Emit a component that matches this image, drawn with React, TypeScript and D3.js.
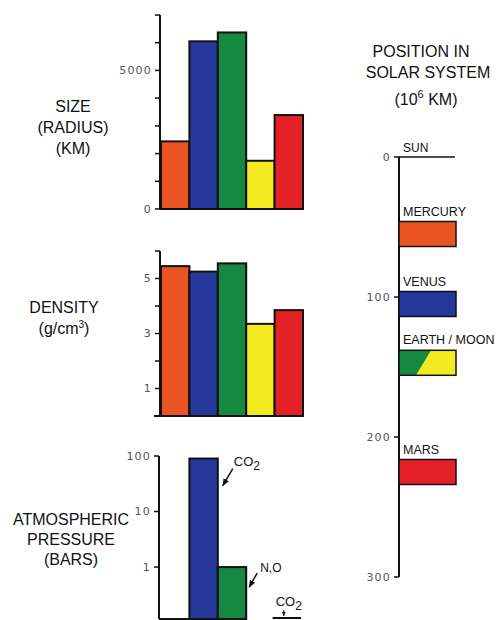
import React from "react";
import * as d3 from "d3";

const planets = ["Mercury", "Venus", "Earth", "Moon", "Mars"];
const colors = ["#EA5322", "#26399A", "#14893F", "#F4EA21", "#E42127"];
const radiusKm = [2440, 6050, 6370, 1740, 3390];
const density = [5.45, 5.25, 5.55, 3.35, 3.85];
const pressure = [0, 90, 1, 0, 0.006];
const sizeTicks = [0, 1000, 2000, 3000, 4000, 5000, 6000, 7000];
const sizeLabels = [0, 5000];
const densTicks = [1, 2, 3, 4, 5, 6];
const densLabels = [1, 3, 5];
const presTicks = [1, 10, 100];
const orbitNames = ["MERCURY", "VENUS", "EARTH / MOON", "MARS"];
const orbitDist = [55, 105, 147, 225];
const orbitColors = [["#EA5322"], ["#26399A"], ["#14893F", "#F4EA21"], ["#E42127"]];
const distTicks = [0, 100, 200, 300];

const FONT = "'Liberation Sans', Arial, sans-serif";
const TICK_FONT = "'DejaVu Sans', sans-serif";

export default function App() {
  const x = d3.scaleBand().domain(planets).range([161, 303]).padding(0);
  const bw = x.bandwidth();
  const axisX = 160;
  const ySize = d3.scaleLinear().domain([0, 7000]).range([209, 15]);
  const yDens = d3.scaleLinear().domain([0, 6]).range([416, 251]);
  const yPres = d3.scaleLog().domain([0.116, 100]).range([619, 456]);
  const yDist = d3.scaleLinear().domain([0, 300]).range([157, 577]);
  const distX = 399;
  const distW = 57;
  const distBarH = 25;

  const tickLabel = (txt: string | number, xx: number, yy: number, key: string) => (
    <text key={key} x={xx} y={yy} dy="0.35em" textAnchor="end" fontFamily={TICK_FONT} fontSize={11} letterSpacing={1.2} fill="#555">{txt}</text>
  );

  const leftLabel = (lines: React.ReactNode[], cx: number, y0: number, dy: number) =>
    lines.map((l, i) => (
      <text key={i} x={cx} y={y0 + i * dy} textAnchor="middle" fontFamily={FONT} fontSize={16} fill="#111">{l}</text>
    ));

  const venusIdx = 1, earthIdx = 2, marsIdx = 4;
  const venusRight = (x(planets[venusIdx]) as number) + bw;
  const venusTop = yPres(pressure[venusIdx]);
  const earthRight = (x(planets[earthIdx]) as number) + bw;
  const earthTop = yPres(pressure[earthIdx]);
  const marsX = x(planets[marsIdx]) as number;
  const presBase = yPres.range()[0];

  return (
    <svg width={500} height={620} style={{ position: "absolute", left: 0, top: 0, background: "#fff" }}>
      <defs>
        <marker id="ah" viewBox="0 0 10 10" refX="9" refY="5" markerWidth="5" markerHeight="5" orient="auto">
          <path d="M0,1 L10,5 L0,9 z" fill="#111" />
        </marker>
      </defs>

      {/* Left labels */}
      {leftLabel(["SIZE", "(RADIUS)", "(KM)"], 73, 112, 21)}
      {leftLabel([
        "DENSITY",
        <tspan key="g">(g/cm<tspan fontSize={10} dy="-6">3</tspan><tspan dy="6">)</tspan></tspan>,
      ], 64, 313, 21)}
      {leftLabel(["ATMOSPHERIC", "PRESSURE", "(BARS)"], 71, 525, 20)}

      {/* Size chart */}
      {planets.map((p, i) => (
        <rect key={p} x={x(p)} y={ySize(radiusKm[i])} width={bw} height={ySize(0) - ySize(radiusKm[i])} fill={colors[i]} stroke="#111" strokeWidth={2} />
      ))}
      <line x1={axisX} x2={axisX} y1={ySize(7000)} y2={ySize(0)} stroke="#111" strokeWidth={2} />
      <line x1={axisX} x2={303} y1={ySize(0)} y2={ySize(0)} stroke="#111" strokeWidth={2} />
      {sizeTicks.map((t) => (
        <line key={t} x1={axisX - 5} x2={axisX} y1={ySize(t)} y2={ySize(t)} stroke="#111" strokeWidth={1.5} />
      ))}
      {sizeLabels.map((t) => tickLabel(t, axisX - 8, ySize(t), "s" + t))}

      {/* Density chart */}
      {planets.map((p, i) => (
        <rect key={p} x={x(p)} y={yDens(density[i])} width={bw} height={yDens(0) - yDens(density[i])} fill={colors[i]} stroke="#111" strokeWidth={2} />
      ))}
      <line x1={axisX} x2={axisX} y1={yDens(6)} y2={yDens(0)} stroke="#111" strokeWidth={2} />
      <line x1={axisX - 6} x2={302} y1={yDens(0)} y2={yDens(0)} stroke="#111" strokeWidth={2} />
      {densTicks.map((t) => (
        <line key={t} x1={axisX - 5} x2={axisX} y1={yDens(t)} y2={yDens(t)} stroke="#111" strokeWidth={1.5} />
      ))}
      {densLabels.map((t) => tickLabel(t, axisX - 8, yDens(t), "d" + t))}

      {/* Pressure chart */}
      {planets.map((p, i) =>
        pressure[i] >= yPres.domain()[0] ? (
          <rect key={p} x={x(p)} y={yPres(pressure[i])} width={bw} height={presBase - yPres(pressure[i])} fill={colors[i]} stroke="#111" strokeWidth={2} />
        ) : null
      )}
      <line x1={axisX - 1} x2={axisX - 1} y1={yPres(100)} y2={presBase} stroke="#111" strokeWidth={2} />
      <line x1={axisX - 1} x2={earthRight} y1={presBase} y2={presBase} stroke="#111" strokeWidth={2} />
      {presTicks.map((t) => (
        <line key={t} x1={axisX - 6} x2={axisX - 1} y1={yPres(t)} y2={yPres(t)} stroke="#111" strokeWidth={1.5} />
      ))}
      {presTicks.map((t) => tickLabel(t, axisX - 9, yPres(t), "p" + t))}
      <line x1={marsX - 2} x2={marsX + bw - 2} y1={presBase - 1} y2={presBase - 1} stroke="#111" strokeWidth={2} />
      {/* annotations */}
      <text x={venusRight + 16} y={venusTop + 7} fontFamily={FONT} fontSize={13} fill="#111">CO<tspan fontSize={12} dy="4">2</tspan></text>
      <line x1={venusRight + 15} x2={venusRight + 5} y1={venusTop + 10} y2={venusTop + 27} stroke="#111" strokeWidth={1.5} markerEnd="url(#ah)" />
      <text x={earthRight + 14} y={earthTop + 5} fontFamily={FONT} fontSize={12} fill="#111">N,O</text>
      <line x1={earthRight + 11} x2={earthRight + 3} y1={earthTop + 6} y2={earthTop + 20} stroke="#111" strokeWidth={1.5} markerEnd="url(#ah)" />
      <text x={marsX + bw / 2} y={presBase - 13} textAnchor="middle" fontFamily={FONT} fontSize={13} fill="#111">CO<tspan fontSize={12} dy="4">2</tspan></text>
      <line x1={marsX + bw / 2 - 5} x2={marsX + bw / 2 - 5} y1={presBase - 9} y2={presBase - 3} stroke="#111" strokeWidth={1} markerEnd="url(#ah)" />

      {/* Right title */}
      <text x={421} y={57} textAnchor="middle" fontFamily={FONT} fontSize={16} fill="#111">POSITION IN</text>
      <text x={428} y={78} textAnchor="middle" fontFamily={FONT} fontSize={16} fill="#111">SOLAR SYSTEM</text>
      <text x={426} y={105} textAnchor="middle" fontFamily={FONT} fontSize={16} fill="#111">(10<tspan fontSize={11} dy="-7">6</tspan><tspan dy="7"> KM)</tspan></text>

      {/* Distance chart */}
      <line x1={distX} x2={distX} y1={yDist(0)} y2={yDist(300)} stroke="#111" strokeWidth={2} />
      <line x1={distX} x2={distX + distW - 1} y1={yDist(0)} y2={yDist(0)} stroke="#111" strokeWidth={1.5} />
      <text x={distX + 4} y={yDist(0) - 5} fontFamily={FONT} fontSize={12} fill="#111">SUN</text>
      {distTicks.map((t) => (
        <line key={t} x1={distX - 5} x2={distX} y1={yDist(t)} y2={yDist(t)} stroke="#111" strokeWidth={1.5} />
      ))}
      {distTicks.map((t) => tickLabel(t, distX - 8, yDist(t), "r" + t))}
      {orbitNames.map((n, i) => {
        const y0 = yDist(orbitDist[i]) - distBarH / 2;
        const cols = orbitColors[i];
        return (
          <g key={n}>
            <text x={distX + 4} y={y0 - 6} fontFamily={FONT} fontSize={12.5} fill="#111">{n}</text>
            {cols.length === 1 ? (
              <rect x={distX} y={y0} width={distW} height={distBarH} fill={cols[0]} />
            ) : (
              <g>
                <rect x={distX} y={y0} width={distW} height={distBarH} fill={cols[1]} />
                <polygon points={`${distX},${y0} ${distX + 32},${y0} ${distX + 17},${y0 + distBarH} ${distX},${y0 + distBarH}`} fill={cols[0]} />
              </g>
            )}
            <rect x={distX} y={y0} width={distW} height={distBarH} fill="none" stroke="#111" strokeWidth={1.5} />
          </g>
        );
      })}
    </svg>
  );
}
